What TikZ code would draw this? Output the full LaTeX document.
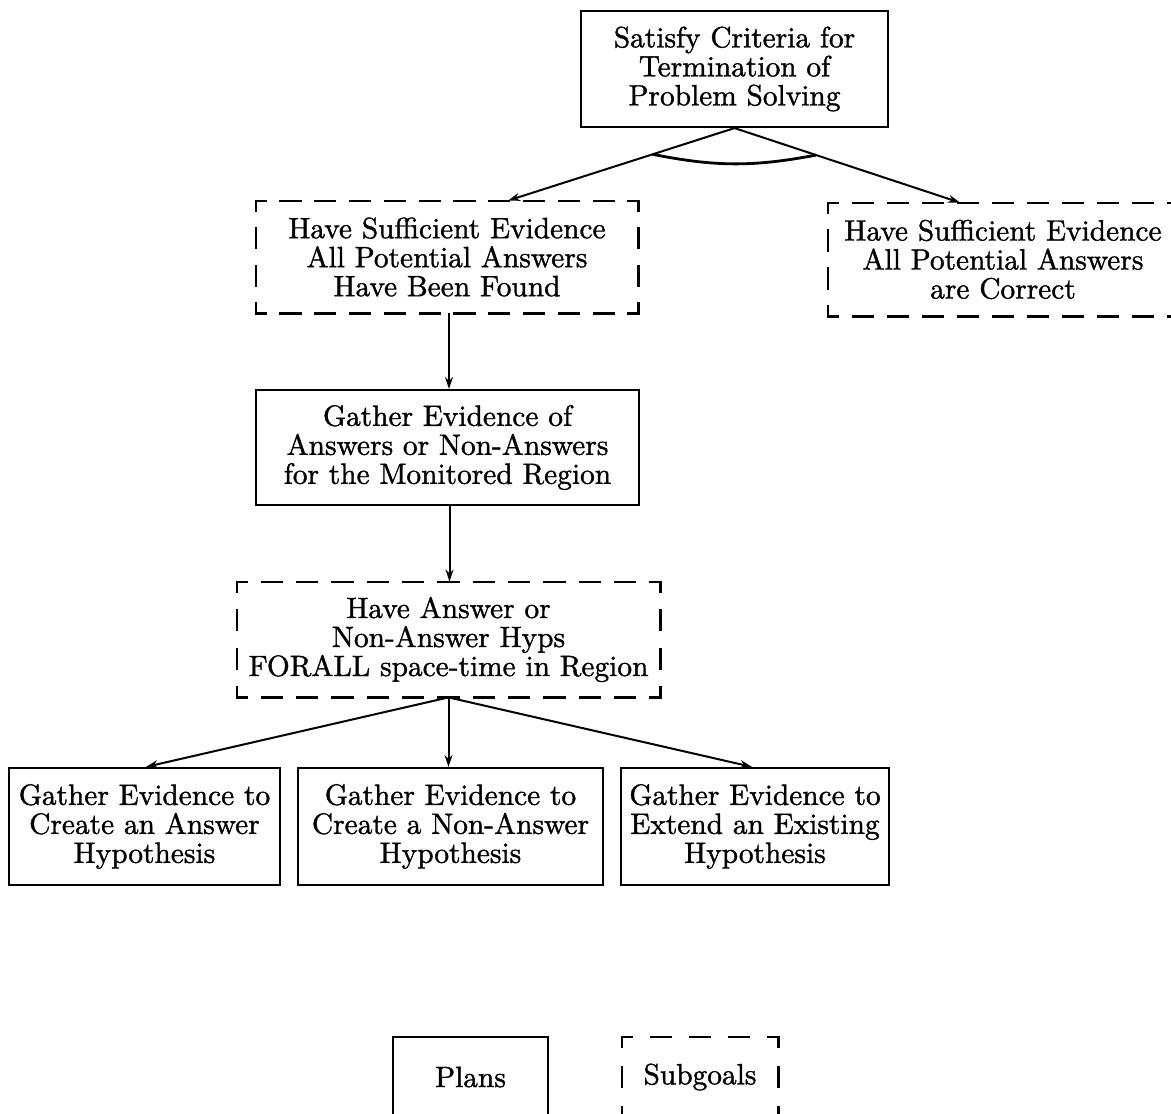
\documentclass[tikz,border=0pt]{standalone}
\usepackage{fontspec}
\setmainfont{lmroman10-regular.otf}[FakeBold=1.2]
\usetikzlibrary{arrows.meta,calc}

\tikzset{
  x=0.5pt, y=-0.5pt,
  boxtext/.style={align=center, inner sep=0pt, font=\fontsize{14.7}{14.5}\selectfont},
  plan/.style={boxtext, draw, line width=1.1pt},
  goal/.style={boxtext},
  goalline/.style={line width=1.1pt, line cap=rect},
  link/.style={line width=1pt, -{Stealth[length=6pt,width=4pt]}},
  andarc/.style={line width=1.4pt},
}

% one side of a subgoal frame: half dashes at both corners, gaps stretched to fit
\newcommand\dashside[2]{%
  \path let \p1=($(#2)-(#1)$), \n1={veclen(\x1,\y1)} in
    \pgfextra{%
      \pgfmathsetmacro\nseg{max(1,round(\n1/17.5))}%
      \pgfmathsetmacro\gp{\n1/\nseg-10}%
      \xdef\sidegap{\gp pt}};
  \draw[goalline, dash pattern=on 10pt off \sidegap, dash phase=5pt] (#1) -- (#2);
}
\newcommand\goalframe[1]{%
  \dashside{#1.north west}{#1.north east}%
  \dashside{#1.north east}{#1.south east}%
  \dashside{#1.south east}{#1.south west}%
  \dashside{#1.south west}{#1.north west}%
}

\begin{document}
\begin{tikzpicture}
\useasboundingbox (0,0) rectangle (1171,1113);

% plans (solid) and subgoals (dashed)
\node[plan, minimum width=153.5pt, minimum height=58pt] (term) at (734.5,69)
  {Satisfy Criteria for\\Termination of\\Problem Solving};
\node[goal, minimum width=191pt, minimum height=56pt] (found) at (447,257)
  {Have Sufficient Evidence\\All Potential Answers\\Have Been Found};
\node[goal, minimum width=175pt, minimum height=56.5pt] (correct) at (1003,259.5)
  {Have Sufficient Evidence\\All Potential Answers\\are Correct};
\node[plan, minimum width=191.5pt, minimum height=57.5pt] (gather) at (447.5,447.5)
  {Gather Evidence of\\Answers or Non-Answers\\for the Monitored Region};
\node[goal, minimum width=211.5pt, minimum height=57.5pt] (hyps) at (448.5,639.5)
  {Have Answer or\\Non-Answer Hyps\\FORALL space-time in Region};
\node[plan, minimum width=135.5pt, minimum height=58.5pt] (ans) at (144.5,826.5)
  {Gather Evidence to\\Create an Answer\\Hypothesis};
\node[plan, minimum width=152.5pt, minimum height=58.5pt] (nonans) at (450.5,826.5)
  {Gather Evidence to\\Create a Non-Answer\\Hypothesis};
\node[plan, minimum width=134pt, minimum height=58.5pt] (extend) at (755,826.5)
  {Gather Evidence to\\Extend an Existing\\Hypothesis};

% key
\node[plan, minimum width=77.5pt, minimum height=40pt] (keyplan) at (470.5,1077) {Plans};
\node[goal, minimum width=78pt, minimum height=40pt] (keygoal) at (700,1077) {Subgoals};

\goalframe{found}
\goalframe{correct}
\goalframe{hyps}
\goalframe{keygoal}

% connectors
\coordinate (foundin) at ($(found.north)+(61,0)$);
\coordinate (correctin) at ($(correct.north)+(-43,0)$);
\draw[link] (term.south) -- (foundin);
\draw[link] (term.south) -- (correctin);
\draw[andarc] ($(term.south)!43pt!(foundin)$) to[bend right=11] ($(term.south)!43pt!(correctin)$);

\draw[link] ([xshift=1pt]found.south) -- ([xshift=1pt]found.south |- gather.north);
\draw[link] ([xshift=1pt]gather.south) -- ([xshift=1pt]gather.south |- hyps.north);
\draw[link] (hyps.south) -- ([xshift=0.75pt]ans.north);
\draw[link] (hyps.south) -- (hyps.south |- nonans.north);
\draw[link] (hyps.south) -- ([xshift=-1.5pt]extend.north);
\end{tikzpicture}
\end{document}
